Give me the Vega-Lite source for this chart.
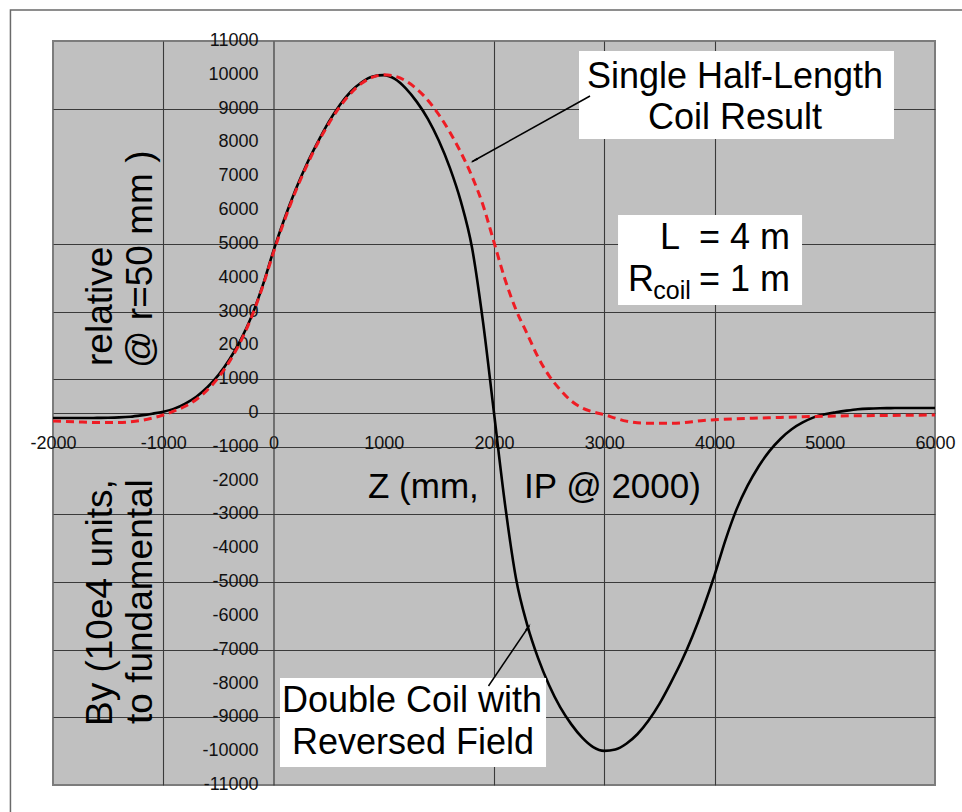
{
  "$schema": "https://vega.github.io/schema/vega-lite/v6.json",
  "width": 882,
  "height": 744,
  "autosize": {"type": "none"},
  "padding": {"left": 53, "top": 41, "right": 27, "bottom": 27},
  "background": "white",
  "config": {
    "view": {"fill": "#c0c0c0", "stroke": "#7c7c7c", "strokeWidth": 2},
    "axis": {"labelFont": "Liberation Sans", "labelFontSize": 18, "labelColor": "#111111", "domainColor": "#3a3a3a", "domainWidth": 1.2, "gridColor": "#3a3a3a", "gridWidth": 1.1, "gridOpacity": 1, "labelOverlap": false, "labelFlush": false},
    "text": {"font": "Liberation Sans", "color": "#000000"}
  },
  "datasets": {
    "one": [{"k": 1}],
    "yticks": [
      {"tick": -11000, "label": "-11000"}, {"tick": -10000, "label": "-10000"}, {"tick": -9000, "label": "-9000"}, {"tick": -8000, "label": "-8000"}, {"tick": -7000, "label": "-7000"}, {"tick": -6000, "label": "-6000"}, {"tick": -5000, "label": "-5000"}, {"tick": -4000, "label": "-4000"}, {"tick": -3000, "label": "-3000"}, {"tick": -2000, "label": "-2000"}, {"tick": -1000, "label": "-1000"}, {"tick": 0, "label": "0"},
      {"tick": 1000, "label": "1000"}, {"tick": 2000, "label": "2000"}, {"tick": 3000, "label": "3000"}, {"tick": 4000, "label": "4000"}, {"tick": 5000, "label": "5000"}, {"tick": 6000, "label": "6000"}, {"tick": 7000, "label": "7000"}, {"tick": 8000, "label": "8000"}, {"tick": 9000, "label": "9000"}, {"tick": 10000, "label": "10000"}, {"tick": 11000, "label": "11000"}
    ],
    "curves": [
      {"series": "double", "z": -2000, "by": -150}, {"series": "double", "z": -1900, "by": -150}, {"series": "double", "z": -1800, "by": -150}, {"series": "double", "z": -1700, "by": -150}, {"series": "double", "z": -1600, "by": -145}, {"series": "double", "z": -1500, "by": -140}, {"series": "double", "z": -1400, "by": -130}, {"series": "double", "z": -1300, "by": -110}, {"series": "double", "z": -1200, "by": -70}, {"series": "double", "z": -1100, "by": -20},
      {"series": "double", "z": -1000, "by": 40}, {"series": "double", "z": -900, "by": 130}, {"series": "double", "z": -800, "by": 280}, {"series": "double", "z": -700, "by": 480}, {"series": "double", "z": -600, "by": 760}, {"series": "double", "z": -500, "by": 1120}, {"series": "double", "z": -400, "by": 1580}, {"series": "double", "z": -300, "by": 2150}, {"series": "double", "z": -200, "by": 2850}, {"series": "double", "z": -100, "by": 3750},
      {"series": "double", "z": 0, "by": 4800}, {"series": "double", "z": 100, "by": 5750}, {"series": "double", "z": 200, "by": 6600}, {"series": "double", "z": 300, "by": 7350}, {"series": "double", "z": 400, "by": 8000}, {"series": "double", "z": 500, "by": 8600}, {"series": "double", "z": 600, "by": 9100}, {"series": "double", "z": 700, "by": 9500}, {"series": "double", "z": 800, "by": 9780}, {"series": "double", "z": 900, "by": 9950},
      {"series": "double", "z": 1000, "by": 9990}, {"series": "double", "z": 1100, "by": 9880}, {"series": "double", "z": 1200, "by": 9600}, {"series": "double", "z": 1300, "by": 9200}, {"series": "double", "z": 1400, "by": 8700}, {"series": "double", "z": 1500, "by": 8050}, {"series": "double", "z": 1600, "by": 7250}, {"series": "double", "z": 1700, "by": 6250}, {"series": "double", "z": 1800, "by": 4900}, {"series": "double", "z": 1900, "by": 2700},
      {"series": "double", "z": 2000, "by": 0}, {"series": "double", "z": 2100, "by": -2700}, {"series": "double", "z": 2200, "by": -4900}, {"series": "double", "z": 2300, "by": -6250}, {"series": "double", "z": 2400, "by": -7250}, {"series": "double", "z": 2500, "by": -8050}, {"series": "double", "z": 2600, "by": -8700}, {"series": "double", "z": 2700, "by": -9200}, {"series": "double", "z": 2800, "by": -9600}, {"series": "double", "z": 2900, "by": -9880},
      {"series": "double", "z": 3000, "by": -9990}, {"series": "double", "z": 3100, "by": -9950}, {"series": "double", "z": 3200, "by": -9780}, {"series": "double", "z": 3300, "by": -9500}, {"series": "double", "z": 3400, "by": -9100}, {"series": "double", "z": 3500, "by": -8600}, {"series": "double", "z": 3600, "by": -8000}, {"series": "double", "z": 3700, "by": -7350}, {"series": "double", "z": 3800, "by": -6600}, {"series": "double", "z": 3900, "by": -5750},
      {"series": "double", "z": 4000, "by": -4800}, {"series": "double", "z": 4100, "by": -3750}, {"series": "double", "z": 4200, "by": -2850}, {"series": "double", "z": 4300, "by": -2150}, {"series": "double", "z": 4400, "by": -1580}, {"series": "double", "z": 4500, "by": -1120}, {"series": "double", "z": 4600, "by": -760}, {"series": "double", "z": 4700, "by": -480}, {"series": "double", "z": 4800, "by": -280}, {"series": "double", "z": 4900, "by": -130},
      {"series": "double", "z": 5000, "by": -40}, {"series": "double", "z": 5100, "by": 20}, {"series": "double", "z": 5200, "by": 70}, {"series": "double", "z": 5300, "by": 110}, {"series": "double", "z": 5400, "by": 130}, {"series": "double", "z": 5500, "by": 140}, {"series": "double", "z": 5600, "by": 145}, {"series": "double", "z": 5700, "by": 150}, {"series": "double", "z": 5800, "by": 150}, {"series": "double", "z": 5900, "by": 150}, {"series": "double", "z": 6000, "by": 150},
      {"series": "single", "z": -2000, "by": -240}, {"series": "single", "z": -1800, "by": -260}, {"series": "single", "z": -1600, "by": -280}, {"series": "single", "z": -1400, "by": -280}, {"series": "single", "z": -1300, "by": -260}, {"series": "single", "z": -1200, "by": -220}, {"series": "single", "z": -1100, "by": -150}, {"series": "single", "z": -1000, "by": -60}, {"series": "single", "z": -900, "by": 60}, {"series": "single", "z": -800, "by": 200},
      {"series": "single", "z": -700, "by": 400}, {"series": "single", "z": -600, "by": 680}, {"series": "single", "z": -500, "by": 1050}, {"series": "single", "z": -400, "by": 1520}, {"series": "single", "z": -300, "by": 2100}, {"series": "single", "z": -200, "by": 2830}, {"series": "single", "z": -100, "by": 3720}, {"series": "single", "z": 0, "by": 4750}, {"series": "single", "z": 100, "by": 5700}, {"series": "single", "z": 200, "by": 6550},
      {"series": "single", "z": 300, "by": 7300}, {"series": "single", "z": 400, "by": 7970}, {"series": "single", "z": 500, "by": 8550}, {"series": "single", "z": 600, "by": 9050}, {"series": "single", "z": 700, "by": 9450}, {"series": "single", "z": 800, "by": 9750}, {"series": "single", "z": 900, "by": 9930}, {"series": "single", "z": 1000, "by": 10000}, {"series": "single", "z": 1100, "by": 9960}, {"series": "single", "z": 1200, "by": 9820},
      {"series": "single", "z": 1300, "by": 9580}, {"series": "single", "z": 1400, "by": 9250}, {"series": "single", "z": 1500, "by": 8820}, {"series": "single", "z": 1600, "by": 8300}, {"series": "single", "z": 1700, "by": 7700}, {"series": "single", "z": 1800, "by": 7000}, {"series": "single", "z": 1900, "by": 6150}, {"series": "single", "z": 2000, "by": 5050}, {"series": "single", "z": 2100, "by": 3950}, {"series": "single", "z": 2200, "by": 3050},
      {"series": "single", "z": 2300, "by": 2350}, {"series": "single", "z": 2400, "by": 1650}, {"series": "single", "z": 2500, "by": 1100}, {"series": "single", "z": 2600, "by": 690}, {"series": "single", "z": 2700, "by": 360}, {"series": "single", "z": 2800, "by": 150}, {"series": "single", "z": 2900, "by": 30}, {"series": "single", "z": 3000, "by": -50}, {"series": "single", "z": 3100, "by": -150}, {"series": "single", "z": 3200, "by": -240},
      {"series": "single", "z": 3300, "by": -290}, {"series": "single", "z": 3400, "by": -300}, {"series": "single", "z": 3500, "by": -300}, {"series": "single", "z": 3600, "by": -300}, {"series": "single", "z": 3700, "by": -290}, {"series": "single", "z": 3800, "by": -260}, {"series": "single", "z": 3900, "by": -220}, {"series": "single", "z": 4000, "by": -200}, {"series": "single", "z": 4200, "by": -170}, {"series": "single", "z": 4400, "by": -150},
      {"series": "single", "z": 4600, "by": -130}, {"series": "single", "z": 4800, "by": -110}, {"series": "single", "z": 5000, "by": -95}, {"series": "single", "z": 5500, "by": -75}, {"series": "single", "z": 6000, "by": -60}
    ]
  },
  "layer": [
    {
      "data": {"name": "curves"},
      "transform": [{"filter": "datum.series === 'double'"}],
      "mark": {"type": "line", "color": "#000000", "strokeWidth": 2.6, "interpolate": "monotone"},
      "encoding": {
        "x": {
          "field": "z", "type": "quantitative",
          "scale": {"domain": [-2000, 6000], "nice": false, "zero": false},
          "axis": {
            "title": null, "orient": "bottom", "offset": -372,
            "values": [-2000, -1000, 0, 1000, 2000, 3000, 4000, 5000, 6000],
            "labelExpr": "'' + datum.value",
            "ticks": false, "tickSize": 0, "labelPadding": 21, "labelFlush": false, "labelOverlap": false,
            "grid": true,
            "gridOpacity": {"condition": {"test": "datum.value == 1000 || datum.value == 5000 || datum.value == 0 || datum.value == -2000 || datum.value == 6000", "value": 0}, "value": 1}
          }
        },
        "y": {
          "field": "by", "type": "quantitative",
          "scale": {"domain": [-11000, 11000], "nice": false, "zero": false},
          "axis": {
            "title": null, "orient": "left", "offset": -220.5,
            "values": [-11000, -10000, -9000, -8000, -7000, -6000, -5000, -4000, -3000, -2000, -1000, 0, 1000, 2000, 3000, 4000, 5000, 6000, 7000, 8000, 9000, 10000, 11000],
            "labels": false, "ticks": false, "tickSize": 0,
            "grid": true,
            "gridOpacity": {"condition": {"test": "datum.value == 10000 || datum.value == 7000 || datum.value == 6000 || datum.value == 0 || datum.value == 11000 || datum.value == -11000", "value": 0}, "value": 1}
          }
        }
      }
    },
    {
      "data": {"name": "yticks"},
      "mark": {"type": "text", "align": "right", "baseline": "middle", "dx": -15, "fontSize": 18, "color": "#111111"},
      "encoding": {
        "x": {"datum": 0, "type": "quantitative"},
        "y": {"field": "tick", "type": "quantitative"},
        "text": {"field": "label", "type": "nominal"}
      }
    },
    {
      "data": {"name": "curves"},
      "transform": [{"filter": "datum.series === 'single'"}],
      "mark": {"type": "line", "color": "#ee1c24", "strokeWidth": 3, "strokeDash": [8, 5], "interpolate": "monotone"},
      "encoding": {
        "x": {"field": "z", "type": "quantitative"},
        "y": {"field": "by", "type": "quantitative"}
      }
    },
    {
      "data": {"name": "one"},
      "mark": {"type": "rect", "fill": null, "stroke": "#6a6a6a", "strokeWidth": 1.5},
      "encoding": {
        "x": {"datum": -2386, "type": "quantitative"},
        "x2": {"datum": 6500},
        "y": {"datum": 11916, "type": "quantitative"},
        "y2": {"datum": -12500}
      }
    },
    {
      "data": {"name": "one"},
      "mark": {"type": "rect", "fill": "white"},
      "encoding": {"x": {"datum": 2771, "type": "quantitative"}, "x2": {"datum": 5628}, "y": {"datum": 10704, "type": "quantitative"}, "y2": {"datum": 8102}}
    },
    {
      "data": {"name": "one"},
      "mark": {"type": "rect", "fill": "white"},
      "encoding": {"x": {"datum": 3125, "type": "quantitative"}, "x2": {"datum": 4794}, "y": {"datum": 5854, "type": "quantitative"}, "y2": {"datum": 3193}}
    },
    {
      "data": {"name": "one"},
      "mark": {"type": "rect", "fill": "white"},
      "encoding": {"x": {"datum": 59, "type": "quantitative"}, "x2": {"datum": 2472}, "y": {"datum": -7836, "type": "quantitative"}, "y2": {"datum": -10467}}
    },
    {
      "data": {"name": "one"},
      "mark": {"type": "rule", "color": "#000000", "strokeWidth": 1.5},
      "encoding": {"x": {"datum": 2871, "type": "quantitative"}, "x2": {"datum": 1800}, "y": {"datum": 9373, "type": "quantitative"}, "y2": {"datum": 7430}}
    },
    {
      "data": {"name": "one"},
      "mark": {"type": "point", "shape": "wedge", "filled": true, "color": "#000000", "size": 90, "angle": 241, "opacity": 1},
      "encoding": {"x": {"datum": 1829, "type": "quantitative"}, "y": {"datum": 7478, "type": "quantitative"}}
    },
    {
      "data": {"name": "one"},
      "mark": {"type": "rule", "color": "#000000", "strokeWidth": 1.5},
      "encoding": {"x": {"datum": 1950, "type": "quantitative"}, "x2": {"datum": 2320}, "y": {"datum": -8072, "type": "quantitative"}, "y2": {"datum": -6290}}
    },
    {
      "data": {"name": "one"},
      "mark": {"type": "point", "shape": "wedge", "filled": true, "color": "#000000", "size": 90, "angle": 34, "opacity": 1},
      "encoding": {"x": {"datum": 2305, "type": "quantitative"}, "y": {"datum": -6357, "type": "quantitative"}}
    },
    {
      "data": {"name": "one"},
      "mark": {"type": "text", "fontSize": 36, "align": "center", "baseline": "alphabetic", "text": "Single Half-Length"},
      "encoding": {"x": {"datum": 4186, "type": "quantitative"}, "y": {"datum": 9610, "type": "quantitative"}}
    },
    {
      "data": {"name": "one"},
      "mark": {"type": "text", "fontSize": 36, "align": "center", "baseline": "alphabetic", "text": "Coil Result"},
      "encoding": {"x": {"datum": 4186, "type": "quantitative"}, "y": {"datum": 8397, "type": "quantitative"}}
    },
    {
      "data": {"name": "one"},
      "mark": {"type": "text", "fontSize": 36, "align": "left", "baseline": "alphabetic", "text": "L"},
      "encoding": {"x": {"datum": 3506, "type": "quantitative"}, "y": {"datum": 4849, "type": "quantitative"}}
    },
    {
      "data": {"name": "one"},
      "mark": {"type": "text", "fontSize": 36, "align": "right", "baseline": "alphabetic", "text": "= 4 m"},
      "encoding": {"x": {"datum": 4685, "type": "quantitative"}, "y": {"datum": 4849, "type": "quantitative"}}
    },
    {
      "data": {"name": "one"},
      "mark": {"type": "text", "fontSize": 36, "align": "left", "baseline": "alphabetic", "text": "R"},
      "encoding": {"x": {"datum": 3215, "type": "quantitative"}, "y": {"datum": 3607, "type": "quantitative"}}
    },
    {
      "data": {"name": "one"},
      "mark": {"type": "text", "fontSize": 25, "align": "left", "baseline": "alphabetic", "text": "coil"},
      "encoding": {"x": {"datum": 3445, "type": "quantitative"}, "y": {"datum": 3371, "type": "quantitative"}}
    },
    {
      "data": {"name": "one"},
      "mark": {"type": "text", "fontSize": 36, "align": "right", "baseline": "alphabetic", "text": "= 1 m"},
      "encoding": {"x": {"datum": 4685, "type": "quantitative"}, "y": {"datum": 3607, "type": "quantitative"}}
    },
    {
      "data": {"name": "one"},
      "mark": {"type": "text", "fontSize": 36, "align": "center", "baseline": "alphabetic", "text": "Double Coil with"},
      "encoding": {"x": {"datum": 1256, "type": "quantitative"}, "y": {"datum": -8841, "type": "quantitative"}}
    },
    {
      "data": {"name": "one"},
      "mark": {"type": "text", "fontSize": 36, "align": "center", "baseline": "alphabetic", "text": "Reversed Field"},
      "encoding": {"x": {"datum": 1265, "type": "quantitative"}, "y": {"datum": -10083, "type": "quantitative"}}
    },
    {
      "data": {"name": "one"},
      "mark": {"type": "text", "fontSize": 35, "align": "left", "baseline": "alphabetic", "text": "Z (mm,"},
      "encoding": {"x": {"datum": 857, "type": "quantitative"}, "y": {"datum": -2513, "type": "quantitative"}}
    },
    {
      "data": {"name": "one"},
      "mark": {"type": "text", "fontSize": 35, "align": "left", "baseline": "alphabetic", "text": "IP @ 2000)"},
      "encoding": {"x": {"datum": 2272, "type": "quantitative"}, "y": {"datum": -2513, "type": "quantitative"}}
    },
    {
      "data": {"name": "one"},
      "mark": {"type": "text", "fontSize": 37, "align": "left", "baseline": "alphabetic", "angle": 270, "text": "By (10e4 units,"},
      "encoding": {"x": {"datum": -1465, "type": "quantitative"}, "y": {"datum": -9255, "type": "quantitative"}}
    },
    {
      "data": {"name": "one"},
      "mark": {"type": "text", "fontSize": 37, "align": "left", "baseline": "alphabetic", "angle": 270, "text": "relative"},
      "encoding": {"x": {"datum": -1465, "type": "quantitative"}, "y": {"datum": 1390, "type": "quantitative"}}
    },
    {
      "data": {"name": "one"},
      "mark": {"type": "text", "fontSize": 37, "align": "left", "baseline": "alphabetic", "angle": 270, "text": "to fundamental"},
      "encoding": {"x": {"datum": -1102, "type": "quantitative"}, "y": {"datum": -9196, "type": "quantitative"}}
    },
    {
      "data": {"name": "one"},
      "mark": {"type": "text", "fontSize": 37, "align": "left", "baseline": "alphabetic", "angle": 270, "text": "@ r=50 mm )"},
      "encoding": {"x": {"datum": -1102, "type": "quantitative"}, "y": {"datum": 1331, "type": "quantitative"}}
    }
  ]
}
